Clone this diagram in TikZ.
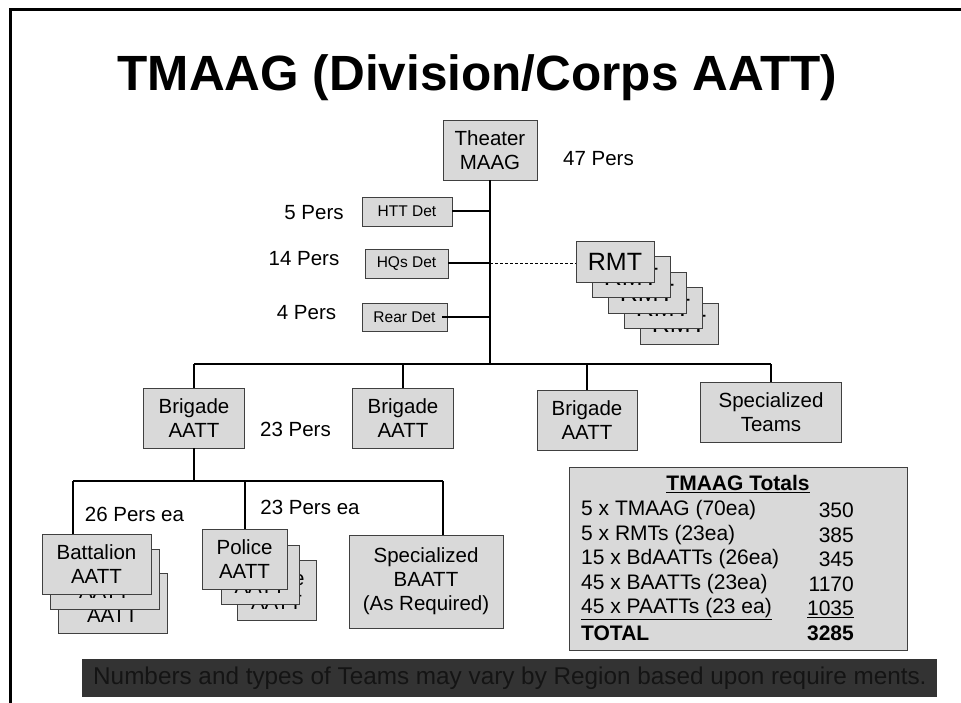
\documentclass[tikz,border=0pt]{standalone}
\usepackage{fontspec}
\setmainfont{Liberation Sans}
\newcommand\fsz[2]{\fontsize{#1}{#2}\selectfont}
\definecolor{boxfill}{HTML}{D9D9D9}
\definecolor{boxline}{HTML}{404040}
\definecolor{bannerfill}{HTML}{333333}
\definecolor{bannertext}{HTML}{141414}
\begin{document}
\begin{tikzpicture}[x=1pt,y=-1pt,
  bx/.style n args={2}{draw=boxline, fill=boxfill, line width=0.9pt, align=center, inner sep=0pt,
     minimum width=#1, minimum height=#2, font=\fsz{20.5}{24}},
  small/.style={font=\fsz{15.5}{18}},
  lbl/.style={inner sep=0pt, font=\fsz{20.5}{24}},
  conn/.style={line width=2pt, black},
  trow/.style={inner sep=0pt, font=\fsz{21}{24}}]
\useasboundingbox (0,0) rectangle (961,703);
% frame
\draw[line width=3pt] (10.5,703) -- (10.5,9.5) -- (961,9.5);
% title
\node[inner sep=0pt, anchor=base, font=\fsz{49.5}{58}\bfseries] (title) at (477.5,91) {TMAAG (Division/Corps AATT)};
% top
\node[bx={94}{60}] (theater) at (490,150) {Theater\\MAAG};
\node[lbl] (p47) at (598.5,159) {47 Pers};
\node[bx={90}{29}, small] (htt) at (407,211.5) {HTT Det};
\node[bx={83}{29}, small] (hqs) at (406.5,263.5) {HQs Det};
\node[bx={85}{28}, small] (rear) at (404.5,317) {Rear Det};
\node[lbl] (p5) at (314,213) {5 Pers};
\node[lbl] (p14) at (304,259) {14 Pers};
\node[lbl] (p4) at (306.5,313) {4 Pers};
% RMT stack
\foreach \k in {4,3,2,1,0}{
  \node[bx={78}{41}, font=\fsz{25}{28}] (rmt\k) at (615+16*\k,261.5+15.5*\k) {RMT};
}
% trunk and bus
\coordinate (busL) at (194,364);
\coordinate (busR) at (771,364);
\draw[conn] (theater.south) -- (theater.south |- busL);
\draw[conn] (htt.east) -- (htt.east -| theater.south);
\draw[conn] (hqs.east) -- (hqs.east -| theater.south);
\draw[conn] ([xshift=-5pt]rear.east) -- (rear.east -| theater.south);
\draw[dashed, line width=0.8pt, dash pattern=on 3pt off 2pt] (hqs.east -| theater.south) -- (rmt0.west |- hqs.east);
\draw[conn] (busL) -- (busR);
% brigades
\node[bx={101}{60}] (brig1) at (194,418) {Brigade\\AATT};
\node[bx={101}{60}] (brig2) at (403,418) {Brigade\\AATT};
\node[bx={100}{60}] (brig3) at (587,420) {Brigade\\AATT};
\node[bx={141}{60}] (spec) at (771,412) {Specialized\\Teams};
\node[lbl] (p23) at (295.5,429) {23 Pers};
\draw[conn] (brig1.north) -- (brig1.north |- busL);
\draw[conn] (brig2.north) -- (brig2.north |- busL);
\draw[conn] (brig3.north) -- (brig3.north |- busL);
\draw[conn] (spec.north) -- (busR);
% sub bus
\coordinate (sbL) at (73,481);
\coordinate (sbR) at (443,481);
\coordinate (sbM) at (194,481);
% battalion stack
\node[bx={109}{60}] (batt2) at (112.5,603) {Battalion\\AATT};
\node[bx={109}{60}] (batt1) at (104.5,579) {Battalion\\AATT};
\node[bx={109}{60}] (batt0) at (96.5,564) {Battalion\\AATT};
% police stack
\node[bx={79}{60}] (pol2) at (276.5,590) {Police\\AATT};
\node[bx={78}{59}] (pol1) at (260,574.5) {Police\\AATT};
\node[bx={85}{60}] (pol0) at (244.5,559) {Police\\AATT};
\node[bx={154}{93}] (specB) at (426,581.5) {Specialized\\BAATT\\(As Required)};
\draw[conn] (brig1.south) -- (sbM);
\draw[conn] (sbL) -- (sbR);
\draw[conn] (sbL) -- (sbL |- batt0.north);
\draw[conn] (pol0.north |- sbL) -- (pol0.north);
\draw[conn] (sbR) -- (sbR |- specB.north);
\node[lbl] (p26ea) at (134.5,514) {26 Pers ea};
\node[lbl] (p23ea) at (310,507) {23 Pers ea};
% totals
\node[bx={338}{183}] (totals) at (738,558.5) {};
\node[trow, font=\fsz{21}{24}\bfseries] (thead) at (738,484) {\underline{TMAAG Totals}};
\node[trow, anchor=west] (r1l) at (581,510.5) {5 x TMAAG (70ea)};
\node[trow, anchor=east] (r1r) at (854,510.5) {350};
\node[trow, anchor=west] (r2l) at (581,535) {5 x RMTs (23ea)};
\node[trow, anchor=east] (r2r) at (854,535) {385};
\node[trow, anchor=west] (r3l) at (581,559.5) {15 x BdAATTs (26ea)};
\node[trow, anchor=east] (r3r) at (854,559.5) {345};
\node[trow, anchor=west] (r4l) at (581,584.5) {45 x BAATTs (23ea)};
\node[trow, anchor=east] (r4r) at (854,584.5) {1170};
\node[trow, anchor=west] (r5l) at (581,609) {\underline{45 x PAATTs (23 ea)}};
\node[trow, anchor=east] (r5r) at (854,609) {\underline{1035}};
\node[trow, anchor=west, font=\fsz{21}{24}\bfseries] (r6l) at (581,633) {TOTAL};
\node[trow, anchor=east, font=\fsz{21}{24}\bfseries] (r6r) at (854,633) {3285};
% banner
\node[fill=bannerfill, minimum width=855, minimum height=38, inner sep=0pt, anchor=north west] (banner) at (82,659) {};
\node[inner sep=0pt, anchor=west, text=bannertext, font=\fsz{24.3}{28}] (btext) at ([xshift=11pt]banner.west) {Numbers and types of Teams may vary by Region based upon require ments.};
\end{tikzpicture}
\end{document}
